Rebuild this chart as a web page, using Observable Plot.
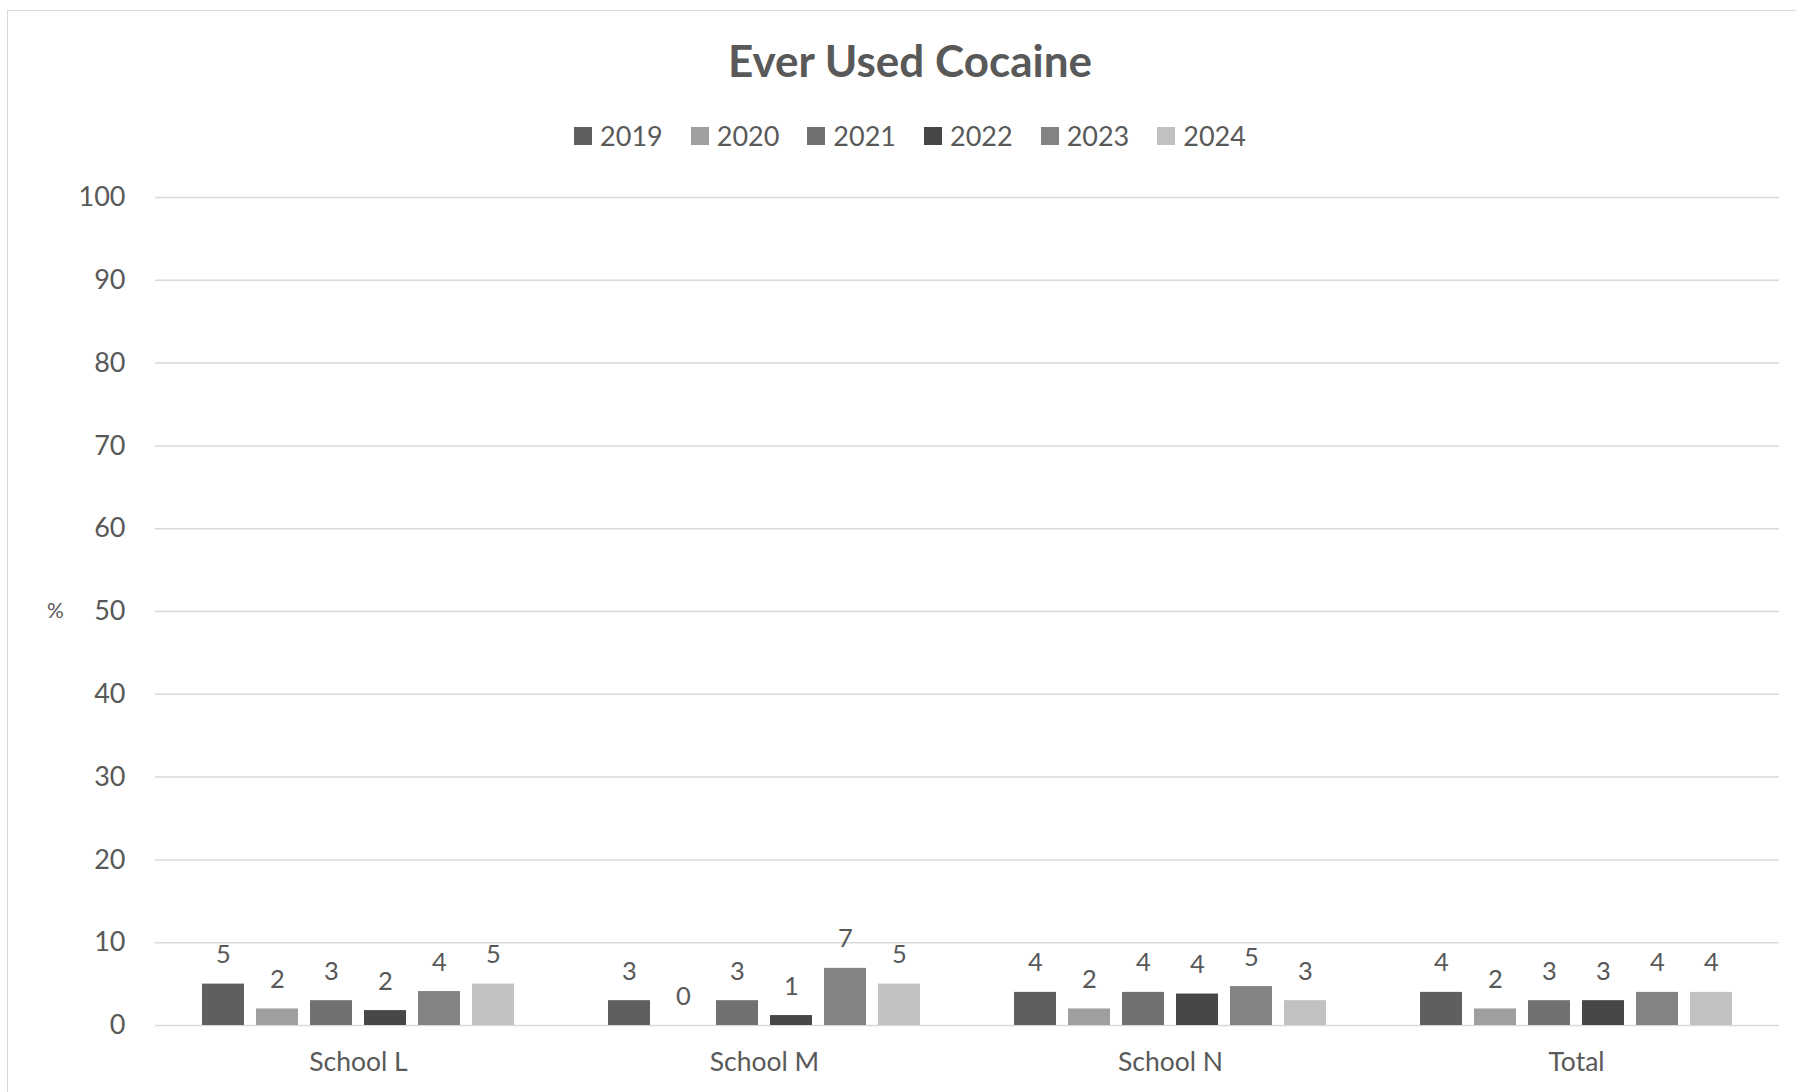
<!DOCTYPE html>
<html>
<head>
<meta charset="utf-8">
<script src="https://cdn.jsdelivr.net/npm/d3@7"></script>
<script src="https://cdn.jsdelivr.net/npm/@observablehq/plot@0.6"></script>
<style>
  html, body { margin: 0; padding: 0; background: #fff; overflow: hidden; }
  body { width: 1796px; height: 1092px; position: relative; font-family: Lato, "Open Sans", sans-serif; color: #595959; }
  #frame { position: absolute; left: 7px; top: 10px; width: 1830px; height: 1130px; border: 1.5px solid #d9d9d9; box-sizing: border-box; }
  #head { position: absolute; left: 8px; top: 0; width: 1804px; }
  #title { margin-top: 34px; height: 52px; line-height: 52px; text-align: center; font-weight: 700; font-size: 44px; color: #595959; }
  #legend { margin-top: 33px; height: 34px; line-height: 34px; display: flex; justify-content: center; font-size: 27px; }
  .item { display: flex; align-items: center; margin: 0 14px; }
  .sw { width: 18px; height: 18px; margin-right: 8px; }
  #chart { position: absolute; left: 0; top: 170px; }
</style>
</head>
<body>
<div id="frame"></div>
<div id="head">
  <div id="title">Ever Used Cocaine</div>
  <div id="legend"></div>
</div>
<div id="chart"></div>
<script>
// Categories and series
const schools = ["School L", "School M", "School N", "Total"];
const years = ["2019", "2020", "2021", "2022", "2023", "2024"];
const yearColors = ["#5f5f5f", "#9f9f9f", "#717171", "#474747", "#838383", "#c1c1c1"];

// Percent who ever used cocaine, by school and survey year
const schoolL = [5.0, 2.0, 3.0, 1.8, 4.1, 5.0];
const schoolM = [3.0, 0.0, 3.0, 1.2, 6.9, 5.0];
const schoolN = [4.0, 2.0, 4.0, 3.8, 4.7, 3.0];
const total   = [4.0, 2.0, 3.0, 3.0, 4.0, 4.0];

const yTicks = d3.range(0, 101, 10);

const series = [schoolL, schoolM, schoolN, total];
const rows = schools.flatMap((school, i) =>
  years.map((year, j) => ({school, year, value: series[i][j]}))
);

// Legend
const legend = document.getElementById("legend");
years.forEach((y, i) => {
  const item = document.createElement("div");
  item.className = "item";
  item.innerHTML = `<span class="sw" style="background:${yearColors[i]}"></span><span>${y}</span>`;
  legend.appendChild(item);
});

const fmt = d3.format(".0f");
const font = "Lato, 'Open Sans', sans-serif";

const chart = Plot.plot({
  width: 1796,
  height: 922,
  marginLeft: 154,
  marginRight: 17,
  marginTop: 27,
  marginBottom: 67,
  style: {fontFamily: font, color: "#595959", background: "transparent"},
  fx: {domain: schools, padding: 0, label: null},
  x: {domain: years, paddingInner: 0.215, paddingOuter: 0.85, axis: null},
  y: {domain: [0, 100], label: null},
  color: {domain: years, range: yearColors},
  marks: [
    Plot.gridY(yTicks, {stroke: "#d9d9d9", strokeOpacity: 1, strokeWidth: 1.5}),
    Plot.axisY(yTicks, {tickSize: 0, tickPadding: 30, fontSize: 27, fill: "#595959", label: null}),
    Plot.axisFx({anchor: "bottom", tickSize: 0, tickPadding: 27, fontSize: 26.5, fill: "#595959", label: null}),
    Plot.barY(rows, {fx: "school", x: "year", y: "value", fill: "year"}),
    Plot.text(rows, {
      fx: "school", x: "year", y: "value",
      text: d => fmt(d.value),
      lineAnchor: "bottom", dy: -21,
      fontSize: 25.5, fill: "#595959"
    }),
    Plot.text(["%"], {
      fx: [schools[0]], y: [50], text: d => d,
      frameAnchor: "left", dx: -100, textAnchor: "middle",
      fontSize: 21, fill: "#595959"
    })
  ]
});

document.getElementById("chart").appendChild(chart);
</script>
</body>
</html>
